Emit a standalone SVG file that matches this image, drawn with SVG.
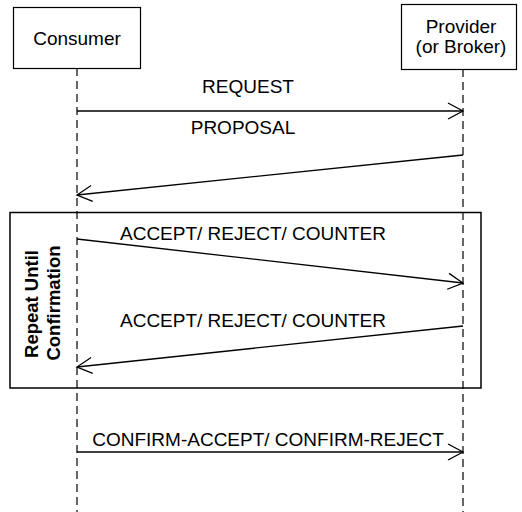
<svg xmlns="http://www.w3.org/2000/svg" width="522" height="512" viewBox="0 0 522 512">
<style>
text{font-family:"Liberation Sans",Arial,sans-serif;font-size:19px;fill:#000}
.box{fill:#fff;stroke:#000;stroke-width:1.2}
.life{stroke:#000;stroke-width:1.2;stroke-dasharray:8 5;fill:none}
.msg{stroke:#000;stroke-width:1.3;fill:none;marker-end:url(#arr)}
.frame{fill:none;stroke:#000;stroke-width:1.5}
.lbl{font-weight:bold;font-size:18.5px}
</style>
<defs>
<marker id="arr" markerUnits="userSpaceOnUse" markerWidth="20" markerHeight="20" viewBox="-17 -10 20 20" refX="0" refY="0" orient="auto">
<path d="M-15,-8 L0,0 L-15,8" fill="none" stroke="#000" stroke-width="1.3"/>
</marker>
</defs>
<g id="lifelines">
<line class="life" x1="77" y1="68" x2="77" y2="512"/>
<line class="life" x1="463" y1="69" x2="463" y2="512"/>
</g>
<g id="frame">
<rect class="frame" x="10" y="212.5" width="471" height="175.5"/>
<text class="lbl" transform="translate(38,304) rotate(-90)" text-anchor="middle">Repeat Until</text>
<text class="lbl" transform="translate(60,303) rotate(-90)" text-anchor="middle">Confirmation</text>
</g>
<g id="consumer">
<rect class="box" x="13.5" y="7.5" width="127" height="61"/>
<text x="77" y="45" text-anchor="middle">Consumer</text>
</g>
<g id="provider">
<rect class="box" x="401.5" y="4.5" width="115" height="65"/>
<text x="461" y="33" text-anchor="middle">Provider</text>
<text x="461" y="53" text-anchor="middle">(or Broker)</text>
</g>
<g id="connectors">
<line class="msg" x1="77" y1="111" x2="463" y2="111"/>
<line class="msg" x1="463" y1="155" x2="77" y2="195"/>
<line class="msg" x1="77" y1="239" x2="463" y2="283"/>
<line class="msg" x1="463" y1="326" x2="77" y2="367"/>
<line class="msg" x1="77" y1="452" x2="463" y2="452"/>
</g>
<g id="labels">
<text x="248" y="93" text-anchor="middle">REQUEST</text>
<text x="243" y="134" text-anchor="middle">PROPOSAL</text>
<text x="253" y="240" text-anchor="middle">ACCEPT/ REJECT/ COUNTER</text>
<text x="253" y="327" text-anchor="middle">ACCEPT/ REJECT/ COUNTER</text>
<text x="268" y="446" text-anchor="middle">CONFIRM-ACCEPT/ CONFIRM-REJECT</text>
</g>
</svg>
